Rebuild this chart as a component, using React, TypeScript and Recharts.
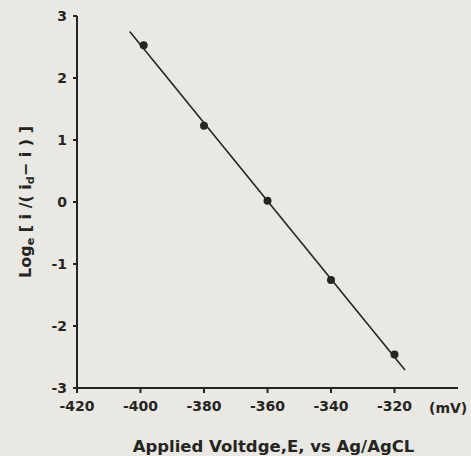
import React from "react";
import { ComposedChart, Line, Scatter, XAxis, YAxis, Label } from "recharts";

// measured points: applied potential (mV) vs loge[i/(id-i)]
const potentials = [-399, -380, -360, -340, -320];
const logRatios = [2.53, 1.23, 0.02, -1.26, -2.46];

// ends of the drawn fit line
const fitPotentials = [-403.4, -316.7];
const fitLogRatios = [2.75, -2.71];

const xTicks = [-420, -400, -380, -360, -340, -320];
const yTicks = [-3, -2, -1, 0, 1, 2, 3];

const points = potentials.map((x, i) => ({ x, y: logRatios[i] }));
const fit = fitPotentials.map((x, i) => ({ x, y: fitLogRatios[i] }));

const INK = "#26251f";
const FONT = "'DejaVu Sans', sans-serif";

const YTitle = ({ viewBox }: any) => {
  const cx = viewBox.x + 18;
  const cy = viewBox.y + viewBox.height / 2;
  return (
    <text
      x={cx}
      y={cy}
      transform={`rotate(-90, ${cx}, ${cy})`}
      textAnchor="middle"
      dominantBaseline="central"
      fill={INK}
      fontFamily={FONT}
      fontSize={16}
      fontWeight={700}
    >
      Log
      <tspan dy={5} fontSize={11}>e</tspan>
      <tspan dy={-5}>  [ i /( i</tspan>
      <tspan dy={5} fontSize={11}>d</tspan>
      <tspan dy={-5}>− i ) ]</tspan>
    </text>
  );
};

const XTitle = ({ viewBox }: any) => (
  <g fill={INK} fontFamily={FONT}>
    <text
      x={viewBox.x + viewBox.width / 2 + 6}
      y={viewBox.y + 64}
      textAnchor="middle"
      fontSize={16.5}
      fontWeight={600}
    >
      Applied Voltdge,E, vs Ag/AgCL
    </text>
    <text
      x={viewBox.x + viewBox.width - 29}
      y={viewBox.y + 25}
      textAnchor="start"
      fontSize={14}
      fontWeight={700}
    >
      (mV)
    </text>
  </g>
);

export default function App() {
  return (
    <div
      style={{
        position: "absolute",
        left: 0,
        top: 0,
        width: 471,
        height: 456,
        background: "#e9e8e3",
      }}
    >
      <ComposedChart
        width={471}
        height={456}
        margin={{ top: 16, right: 13, left: 7, bottom: 8 }}
      >
        <XAxis
          type="number"
          dataKey="x"
          domain={[-420, -300]}
          ticks={xTicks}
          allowDataOverflow
          height={60}
          stroke={INK}
          strokeWidth={2}
          tickSize={5}
          tickMargin={8}
          tick={{ fill: INK, fontSize: 14, fontWeight: 700, fontFamily: FONT }}
        >
          <Label content={<XTitle />} />
        </XAxis>
        <YAxis
          type="number"
          dataKey="y"
          domain={[-3, 3]}
          ticks={yTicks}
          width={70}
          stroke={INK}
          strokeWidth={2}
          tickSize={4}
          tickMargin={6}
          tick={{ fill: INK, fontSize: 14, fontWeight: 700, fontFamily: FONT }}
        >
          <Label content={<YTitle />} />
        </YAxis>
        <Line
          data={fit}
          dataKey="y"
          stroke={INK}
          strokeWidth={1.6}
          dot={false}
          activeDot={false}
          isAnimationActive={false}
        />
        <Scatter
          data={points}
          dataKey="y"
          fill={INK}
          shape={(p: any) => <circle cx={p.cx} cy={p.cy} r={4} fill={INK} />}
          isAnimationActive={false}
        />
      </ComposedChart>
    </div>
  );
}
